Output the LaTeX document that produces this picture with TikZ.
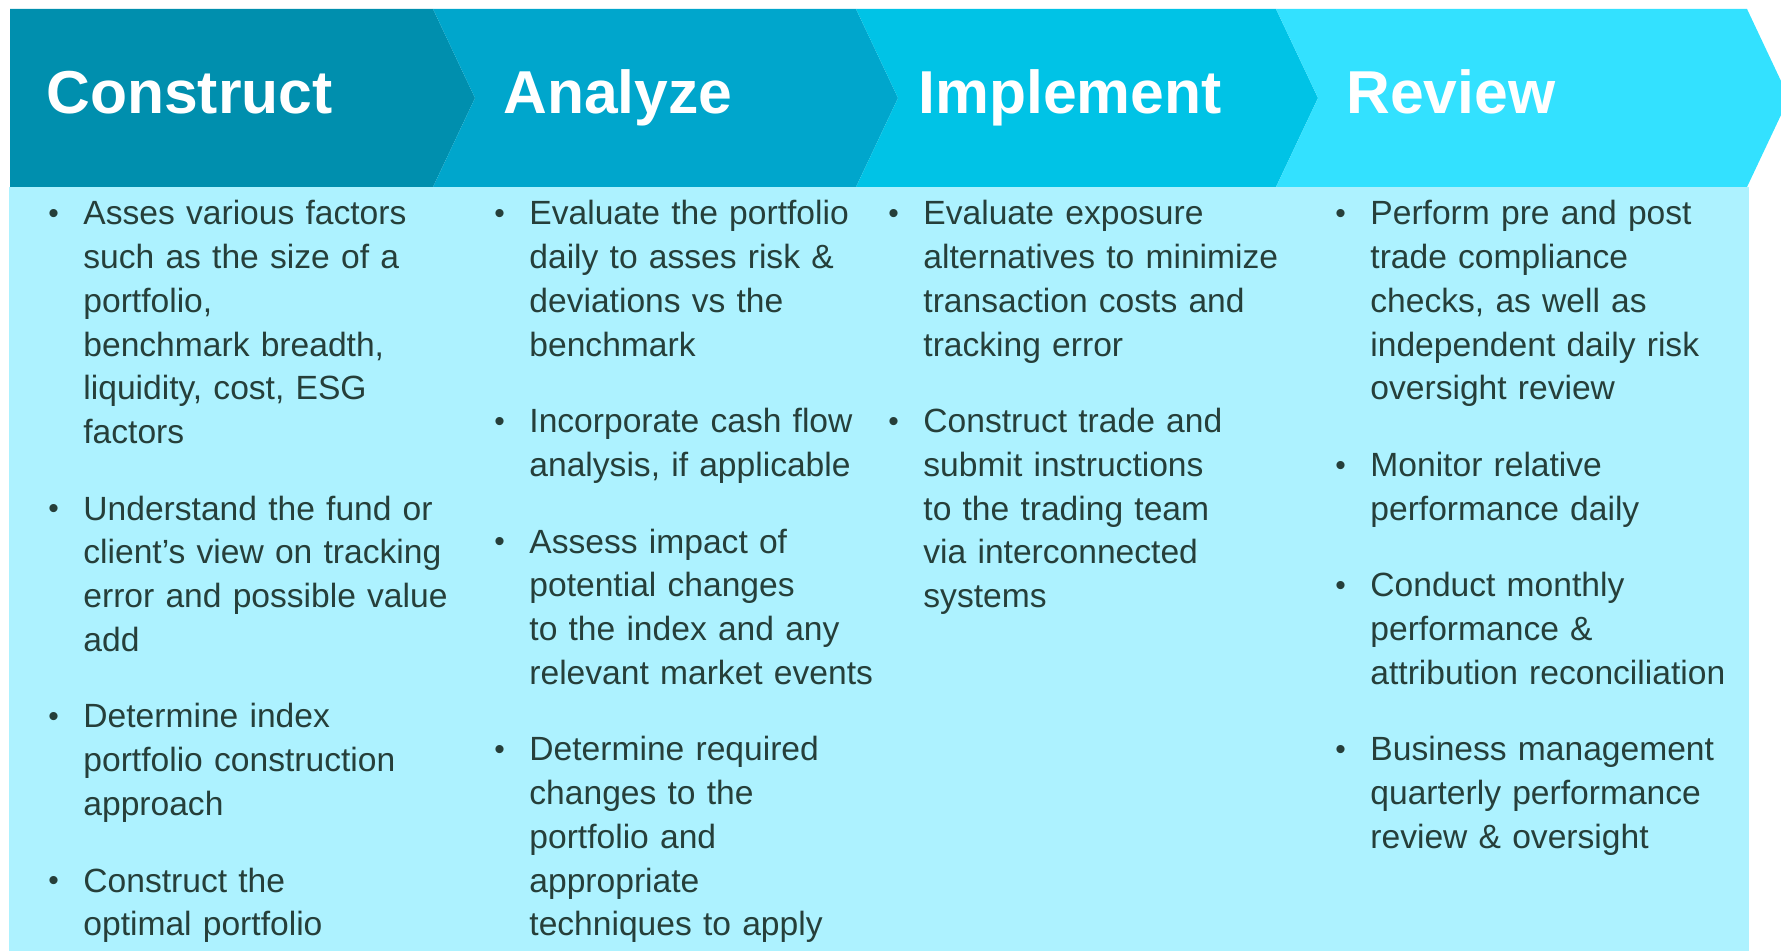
\documentclass[tikz,border=0pt]{standalone}
\usepackage{fontspec}
\setmainfont{Liberation Sans}
\usetikzlibrary{positioning}

\definecolor{construct}{HTML}{008FAE}
\definecolor{analyze}{HTML}{00A6CC}
\definecolor{implement}{HTML}{00C3E6}
\definecolor{review}{HTML}{33E1FF}
\definecolor{panel}{HTML}{ADF2FF}
\definecolor{textdark}{HTML}{263F3A}

\newcommand{\stepitem}[1]{\hangindent=17.5pt\hangafter=1
  \makebox[17.5pt][l]{\raisebox{0.6pt}{\fontsize{15pt}{15pt}\selectfont\textbullet}}#1\par}
\newcommand{\stepgap}{\vspace{16.5pt}}

\tikzset{
  title/.style={anchor=base west, inner sep=0pt, text=white,
    font=\fontsize{30.3pt}{30.3pt}\selectfont\bfseries},
  column/.style={anchor=base west, inner sep=0pt, text width=225pt, text=textdark,
    font=\fontsize{16.8pt}{21.85pt}\selectfont}
}

\begin{document}
\begin{tikzpicture}[x=0.5pt,y=-0.5pt]
    \pgfmathsetmacro{\hy}{9}
    \pgfmathsetmacro{\hb}{187}
    \pgfmathsetmacro{\hm}{98}
    \pgfmathsetmacro{\hd}{42}
    \pgfmathsetmacro{\xa}{10}
    \pgfmathsetmacro{\xb}{433}
    \pgfmathsetmacro{\xc}{856}
    \pgfmathsetmacro{\xd}{1276}
    \pgfmathsetmacro{\xe}{1747}
    \useasboundingbox (0,0) rectangle (1781,951);

    % Body panel
    \fill [panel] (9,\hb) rectangle (1749,951);

    % Header chevrons
    \fill [construct] (\xa,\hy) -- (\xb,\hy) -- (\xb+\hd,\hm) -- (\xb,\hb) -- (\xa,\hb) -- cycle;
    \fill [analyze] (\xb,\hy) -- (\xc,\hy) -- (\xc+\hd,\hm) -- (\xc,\hb) -- (\xb,\hb) -- (\xb+\hd,\hm) -- cycle;
    \fill [implement] (\xc,\hy) -- (\xd,\hy) -- (\xd+\hd,\hm) -- (\xd,\hb) -- (\xc,\hb) -- (\xc+\hd,\hm) -- cycle;
    \fill [review] (\xd,\hy) -- (\xe,\hy) -- (\xe+\hd,\hm) -- (\xe,\hb) -- (\xd,\hb) -- (\xd+\hd,\hm) -- cycle;

    % Step titles
    \node [title] (tconstruct) at (46,114) {Construct};
    \node [title] (tanalyze) at (503,114) {Analyze};
    \node [title] (timplement) at (918,114) {Implement};
    \node [title] (treview) at (1346,114) {Review};

    % Step details
    \node [column] (lconstruct) at (48,225) {%
      \stepitem{Asses various factors\newline such as the size of a\newline portfolio,\newline benchmark breadth,\newline liquidity, cost, ESG\newline factors}\stepgap
      \stepitem{Understand the fund or\newline client’s view on tracking\newline error and possible value\newline add}\stepgap
      \stepitem{Determine index\newline portfolio construction\newline approach}\stepgap
      \stepitem{Construct the\newline optimal portfolio}};
    \node [column] (lanalyze) at (494,225) {%
      \stepitem{Evaluate the portfolio\newline daily to asses risk \&\newline deviations vs the\newline benchmark}\stepgap
      \stepitem{Incorporate cash flow\newline analysis, if applicable}\stepgap
      \stepitem{Assess impact of\newline potential changes\newline to the index and any\newline relevant market events}\stepgap
      \stepitem{Determine required\newline changes to the\newline portfolio and\newline appropriate\newline techniques to apply}};
    \node [column] (limplement) at (888,225) {%
      \stepitem{Evaluate exposure\newline alternatives to minimize\newline transaction costs and\newline tracking error}\stepgap
      \stepitem{Construct trade and\newline submit instructions\newline to the trading team\newline via interconnected\newline systems}};
    \node [column] (lreview) at (1335,225) {%
      \stepitem{Perform pre and post\newline trade compliance\newline checks, as well as\newline independent daily risk\newline oversight review}\stepgap
      \stepitem{Monitor relative\newline performance daily}\stepgap
      \stepitem{Conduct monthly\newline performance \&\newline attribution reconciliation}\stepgap
      \stepitem{Business management\newline quarterly performance\newline review \& oversight}};
\end{tikzpicture}
\end{document}
